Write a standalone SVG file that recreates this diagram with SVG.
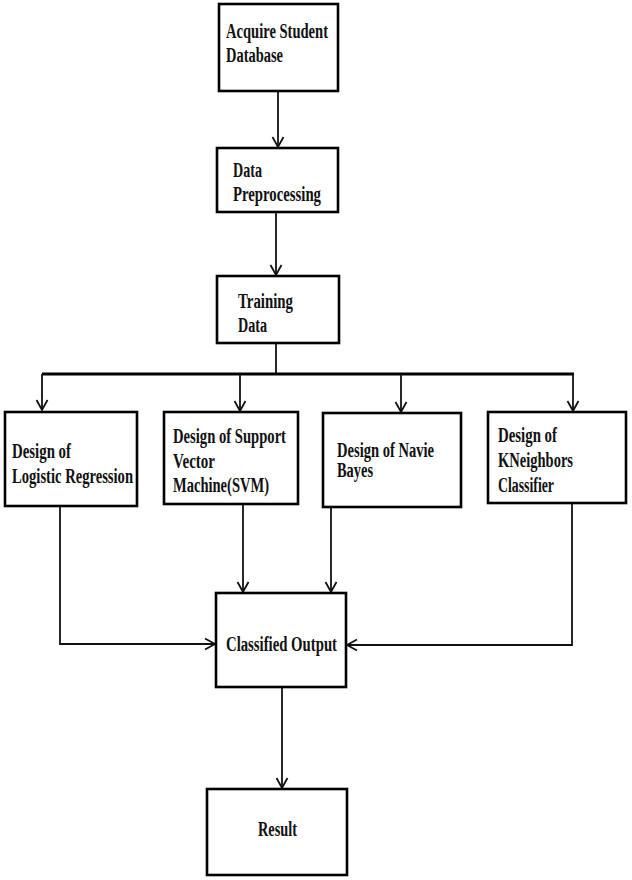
<svg xmlns="http://www.w3.org/2000/svg" width="632" height="880" viewBox="0 0 632 880">
<style>
.box{fill:#fff;stroke:#000;stroke-width:2.6}
.t{font-family:"Liberation Serif","Times New Roman",serif;font-weight:bold;font-size:20px;fill:#111}
.c{fill:none;stroke:#111;stroke-width:1.8}
.bus{fill:none;stroke:#000;stroke-width:3.2}
</style>
<defs>
<marker id="a" markerUnits="userSpaceOnUse" markerWidth="16" markerHeight="16" viewBox="-12 -8 14 16" refX="0" refY="0" orient="auto">
<path d="M-10,-5.5 L0,0 L-10,5.5" fill="none" stroke="#111" stroke-width="1.8"/>
</marker>
</defs>
<rect width="632" height="880" fill="#fff"/>
<g id="connectors">
<path class="c" d="M278,91 V147" marker-end="url(#a)"/>
<path class="c" d="M276,212 V275" marker-end="url(#a)"/>
<path class="c" d="M276,343 V374"/>
<path class="bus" d="M42,374 H574"/>
<path class="c" d="M42,374 V410" marker-end="url(#a)"/>
<path class="c" d="M240,374 V411" marker-end="url(#a)"/>
<path class="c" d="M401,374 V412" marker-end="url(#a)"/>
<path class="c" d="M573,374 V411" marker-end="url(#a)"/>
<path class="c" d="M60,506 V644 H215" marker-end="url(#a)"/>
<path class="c" d="M243,504 V592" marker-end="url(#a)"/>
<path class="c" d="M331,507 V592" marker-end="url(#a)"/>
<path class="c" d="M572,503 V645 H347" marker-end="url(#a)"/>
<path class="c" d="M282,687 V788" marker-end="url(#a)"/>
</g>
<g id="acquire">
<rect class="box" x="219" y="4" width="119" height="87"/>
<text class="t" x="226" y="38" textLength="102" lengthAdjust="spacingAndGlyphs">Acquire Student</text>
<text class="t" x="226" y="62" textLength="57" lengthAdjust="spacingAndGlyphs">Database</text>
</g>
<g id="preprocessing">
<rect class="box" x="217" y="148" width="121" height="64"/>
<text class="t" x="233" y="177" textLength="29" lengthAdjust="spacingAndGlyphs">Data</text>
<text class="t" x="233" y="201" textLength="88" lengthAdjust="spacingAndGlyphs">Preprocessing</text>
</g>
<g id="training">
<rect class="box" x="217" y="276" width="122" height="67"/>
<text class="t" x="238" y="308" textLength="55" lengthAdjust="spacingAndGlyphs">Training</text>
<text class="t" x="238" y="332" textLength="29" lengthAdjust="spacingAndGlyphs">Data</text>
</g>
<g id="logistic">
<rect class="box" x="5" y="412" width="132" height="94"/>
<text class="t" x="12" y="458" textLength="59" lengthAdjust="spacingAndGlyphs">Design of</text>
<text class="t" x="12" y="483" textLength="121" lengthAdjust="spacingAndGlyphs">Logistic Regression</text>
</g>
<g id="svm">
<rect class="box" x="164" y="412" width="134" height="92"/>
<text class="t" x="173" y="443" textLength="113" lengthAdjust="spacingAndGlyphs">Design of Support</text>
<text class="t" x="173" y="468" textLength="42" lengthAdjust="spacingAndGlyphs">Vector</text>
<text class="t" x="173" y="492" textLength="96" lengthAdjust="spacingAndGlyphs">Machine(SVM)</text>
</g>
<g id="naive">
<rect class="box" x="323" y="413" width="138" height="94"/>
<text class="t" x="337" y="457" textLength="97" lengthAdjust="spacingAndGlyphs">Design of Navie</text>
<text class="t" x="337" y="477" textLength="36" lengthAdjust="spacingAndGlyphs">Bayes</text>
</g>
<g id="kneighbors">
<rect class="box" x="488" y="412" width="138" height="91"/>
<text class="t" x="498" y="442" textLength="59" lengthAdjust="spacingAndGlyphs">Design of</text>
<text class="t" x="498" y="467" textLength="75" lengthAdjust="spacingAndGlyphs">KNeighbors</text>
<text class="t" x="498" y="492" textLength="56" lengthAdjust="spacingAndGlyphs">Classifier</text>
</g>
<g id="classified">
<rect class="box" x="216" y="593" width="130" height="94"/>
<text class="t" x="226" y="651" textLength="111" lengthAdjust="spacingAndGlyphs">Classified Output</text>
</g>
<g id="result">
<rect class="box" x="207" y="789" width="140" height="86"/>
<text class="t" x="258" y="836" textLength="39" lengthAdjust="spacingAndGlyphs">Result</text>
</g>
</svg>
